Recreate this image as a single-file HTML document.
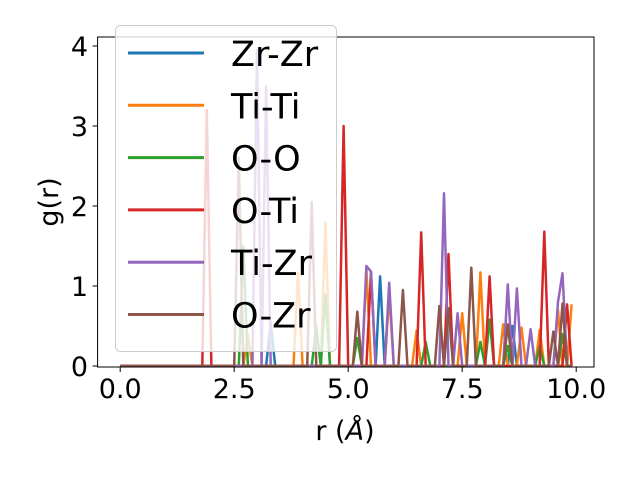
<!DOCTYPE html>
<html><head><meta charset="utf-8"><style>
body{margin:0;background:#fff}
svg text{font-family:"DejaVu Sans","Liberation Sans",sans-serif;fill:#000}
</style></head><body>
<svg id="chart" width="640" height="480" xmlns="http://www.w3.org/2000/svg">
<rect width="640" height="480" fill="#fff"/>
<g id="series"></g>
<rect x="97.6" y="37" width="496.4" height="330" fill="none" stroke="#000" stroke-width="1"/>
<g id="xticks"></g>
<g id="yticks"></g>
<text x="345" y="440" font-size="27" text-anchor="middle">r (<tspan font-style="italic">Å</tspan>)</text>
<text transform="translate(58,202) rotate(-90)" font-size="27" text-anchor="middle">g(r)</text>
<g id="legend">
<rect x="115.5" y="25.5" width="221" height="326" rx="5" fill="#fff" fill-opacity="0.8" stroke="#ccc"/>
</g>
</svg>
<script>
const names = ["Zr-Zr","Ti-Ti","O-O","O-Ti","Ti-Zr","O-Zr"];
const colors = ["#1f77b4","#ff7f0e","#2ca02c","#d62728","#9467bd","#8c564b"];
// peak positions (r) and g values for each series; zero elsewhere on the 0.0..9.9 grid (step 0.1)
const zrzrR = [3.3, 5.7, 8.6];
const zrzrG = [0.55, 1.12, 0.5];
const titiR = [2.8, 3.9, 4.5, 5.4, 5.9, 6.5, 7.5, 7.9, 8.4, 8.8, 9.2, 9.6, 9.9];
const titiG = [0.4, 1.17, 1.8, 1.2, 0.9, 0.44, 0.66, 1.17, 0.52, 0.48, 0.45, 0.7, 0.77];
const ooR = [2.7, 4.3, 4.5, 5.2, 6.7, 7.9, 8.1, 8.5, 9.2, 9.7];
const ooG = [1.5, 0.5, 0.9, 0.35, 0.3, 0.3, 0.58, 0.25, 0.25, 0.4];
const otiR = [1.9, 4.9, 5.5, 6.6, 7.2, 8.1, 9.3, 9.8];
const otiG = [3.2, 3.0, 1.17, 1.67, 1.4, 1.12, 1.68, 0.77];
const tizrR = [3.0, 3.2, 5.4, 5.5, 5.9, 7.1, 7.4, 8.5, 8.7, 9.0, 9.6, 9.7];
const tizrG = [3.95, 3.5, 1.25, 1.18, 1.04, 2.16, 0.66, 1.02, 0.97, 0.46, 0.8, 1.16];
const ozrR = [2.6, 4.2, 5.2, 6.2, 7.0, 7.2, 7.7, 8.5, 9.5, 9.7];
const ozrG = [2.6, 2.05, 0.68, 0.95, 0.75, 0.72, 1.23, 0.52, 0.43, 0.78];
const seriesR = [zrzrR, titiR, ooR, otiR, tizrR, ozrR];
const seriesG = [zrzrG, titiG, ooG, otiG, tizrG, ozrG];
const xTicks = [0, 2.5, 5, 7.5, 10];
const xTickLabels = ["0.0","2.5","5.0","7.5","10.0"];
const yTicks = [0, 1, 2, 3, 4];
const yTickLabels = ["0","1","2","3","4"];

const NS = "http://www.w3.org/2000/svg";
function xs(r){ return 120.2 + r*45.6; }
function ys(g){ return 366 - g*80; }

const sg = document.getElementById("series");
for (let s=0; s<names.length; s++){
  const vals = new Array(100).fill(0);
  seriesR[s].forEach((r,i)=>{ vals[Math.round(r*10)] = seriesG[s][i]; });
  const pts = vals.map((v,i)=> xs(i/10).toFixed(1)+","+ys(v).toFixed(1)).join(" ");
  const pl = document.createElementNS(NS,"polyline");
  pl.setAttribute("points", pts);
  pl.setAttribute("fill","none");
  pl.setAttribute("stroke", colors[s]);
  pl.setAttribute("stroke-width","2.5");
  pl.setAttribute("stroke-linejoin","round");
  
  
  sg.appendChild(pl);
}
const xg = document.getElementById("xticks");
xTicks.forEach((t,i)=>{
  const l = document.createElementNS(NS,"line");
  l.setAttribute("x1",xs(t)); l.setAttribute("x2",xs(t));
  l.setAttribute("y1",367); l.setAttribute("y2",372);
  l.setAttribute("stroke","#000");
  
  
  xg.appendChild(l);
  const tx = document.createElementNS(NS,"text");
  tx.setAttribute("x",xs(t)); tx.setAttribute("y",398);
  tx.setAttribute("font-size","27"); tx.setAttribute("text-anchor","middle");
  tx.textContent = xTickLabels[i];
  
  
  xg.appendChild(tx);
});
const yg = document.getElementById("yticks");
yTicks.forEach((t,i)=>{
  const l = document.createElementNS(NS,"line");
  l.setAttribute("x1",92.6); l.setAttribute("x2",97.6);
  l.setAttribute("y1",ys(t)); l.setAttribute("y2",ys(t));
  l.setAttribute("stroke","#000");
  
  
  yg.appendChild(l);
  const tx = document.createElementNS(NS,"text");
  tx.setAttribute("x",88); tx.setAttribute("y",ys(t)+10);
  tx.setAttribute("font-size","27"); tx.setAttribute("text-anchor","end");
  tx.textContent = yTickLabels[i];
  
  
  yg.appendChild(tx);
});
const lg = document.getElementById("legend");
names.forEach((n,i)=>{
  const y = 53 + i*52.3;
  const l = document.createElementNS(NS,"line");
  l.setAttribute("x1",128); l.setAttribute("x2",204);
  l.setAttribute("y1",y); l.setAttribute("y2",y);
  l.setAttribute("stroke",colors[i]); l.setAttribute("stroke-width","3");
  
  
  lg.appendChild(l);
  const tx = document.createElementNS(NS,"text");
  tx.setAttribute("x",231); tx.setAttribute("y",y+13);
  tx.setAttribute("font-size","35");
  tx.textContent = n;
  
  
  lg.appendChild(tx);
});
</script>
</body></html>
